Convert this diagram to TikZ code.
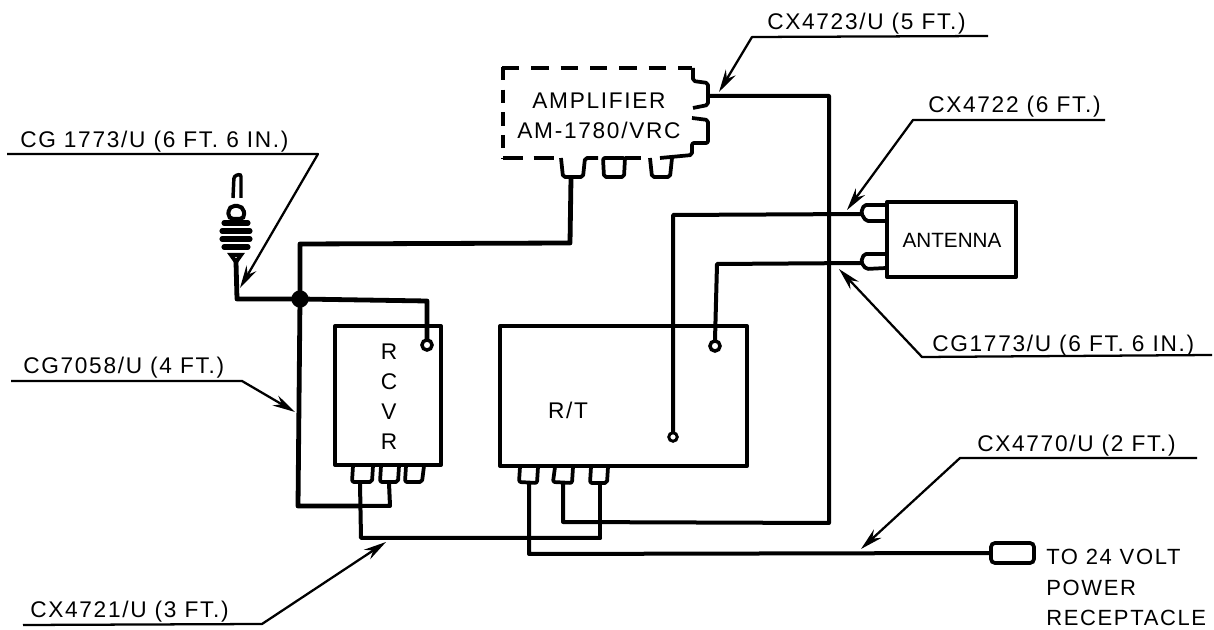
\documentclass[tikz,border=0pt]{standalone}
\usepackage{fontspec}
\setmainfont[LetterSpace=7.5]{Liberation Sans}
\newfontfamily\tightfont{Liberation Sans}
\usetikzlibrary{arrows.meta}
\begin{document}
\begin{tikzpicture}[x=0.75pt,y=-0.75pt,
  wire/.style={line width=3.6pt,line join=round,line cap=round},
  thin wire/.style={line width=3pt,line join=round,line cap=round},
  boxline/.style={line width=3pt,line join=round},
  conn/.style={line width=2.8pt,line join=round,rounded corners=1.5pt},
  leader/.style={line width=1.7pt,line join=round,-{Stealth[length=17pt,width=8.5pt]}},
  lab/.style={font=\fontsize{17pt}{17pt}\selectfont,inner sep=0pt,anchor=base west},
  plab/.style={font=\fontsize{16.5pt}{17pt}\selectfont,inner sep=0pt,anchor=base west},
  blab/.style={font=\fontsize{17pt}{22.5pt}\selectfont,inner sep=0pt,align=center}]
\useasboundingbox (0,0) rectangle (1214,630);
% amplifier
\draw[line width=3pt,dash pattern=on 13pt off 9pt] (502,68) -- (692,68);
\draw[line width=3pt,dash pattern=on 10pt off 7pt] (503,67) -- (503,158);
\draw[line width=3pt,dash pattern=on 15pt off 8pt] (503,158) -- (560,158);
\node[blab] (amp) at (599,116) {AMPLIFIER\\AM-1780/VRC};
\draw[conn] (693,68) -- (693,81) -- (708,83) -- (708,105) -- (693,108);
\draw[conn] (692,118) -- (708,120) -- (708,143) -- (692,143) -- (692,155) -- (660,158);
\draw[line width=3pt,dash pattern=on 12pt off 8pt] (625,158) -- (650,158);
\draw[conn] (561,158) -- (563,177) -- (583,177) -- (585,158) -- (598,158);
\draw[conn] (603,158) -- (604,177) -- (624,177) -- (625,158) -- cycle;
\draw[conn] (650,158) -- (652,177) -- (670,177) -- (672,158);
% antenna
\draw[boxline] (887,202) rectangle (1016,277);
\node[blab,font=\tightfont\fontsize{15.5pt}{18pt}\selectfont] (ant) at (952,240) {ANTENNA};
\draw[conn] (886,205) -- (864,205) -- (861,213) -- (866,221) -- (886,221);
\draw[conn] (886,254) -- (864,254) -- (861,262) -- (866,269) -- (886,268);
% rcvr
\draw[boxline] (335,326) rectangle (441,465);
\node[blab] (rcvr) at (389,397) {R\\C\\V\\R};
\draw[conn] (353,466) -- (352,482) -- (372,482) -- (373,466);
\draw[conn] (381,466) -- (380,482) -- (398,482) -- (399,466);
\draw[conn] (406,466) -- (405,482) -- (422,482) -- (424,466);
% r/t
\draw[boxline] (500,326) rectangle (747,466);
\node[blab] (rt) at (568,410) {R/T};
\draw[conn] (520,467) -- (519,482) -- (537,483) -- (538,467);
\draw[conn] (555,467) -- (553,482) -- (572,483) -- (573,467);
\draw[conn] (591,467) -- (590,483) -- (607,483) -- (608,467);
% terminals
\draw[line width=2.6pt] (427,345) circle (3.8pt);
\draw[line width=2.6pt] (715,346) circle (3.8pt);
\draw[line width=2.2pt] (673,437) circle (3.2pt);
% plug top left
\draw[line width=2.6pt,rounded corners=2pt] (233,198) -- (234,176) -- (241,174) -- (241,198);
\draw[line width=3pt,rounded corners=4pt] (228,219) -- (229,206) -- (243,206) -- (245,219) -- cycle;
\foreach \y/\w in {223/12,231/14,239/14,247/12}
  \draw[line width=3.8pt,line cap=round] (236-\w,\y) -- (236+\w,\y);
\draw[line width=3pt,fill=white] (231,255) -- (241,255) -- (236,262) -- cycle;
% wires
\coordinate (jn) at (300,299);
\fill (jn) circle (6.5pt);
\draw[wire] (236,262) -- (237,299) -- (jn) -- (427,301) -- (427,339);
\draw[wire] (jn) -- (300,244) -- (570,243) -- (571,178);
\draw[wire] (jn) -- (298,506) -- (361,506);
\draw[thin wire] (360,483) -- (361,538) -- (600,538);
\draw[thin wire] (389,483) -- (390,506) -- (361,506);
\draw[thin wire] (529,484) -- (529,554) -- (990,553);
\draw[thin wire] (563,484) -- (563,522) -- (829,523) -- (829,96) -- (708,96);
\draw[thin wire] (600,484) -- (600,538);
\draw[thin wire] (673,432) -- (673,215) -- (861,214);
\draw[thin wire] (715,340) -- (717,264) -- (861,263);
% power plug
\draw[line width=2.8pt,rounded corners=3pt] (991,543) rectangle (1034,563);
\node[plab] (t1) at (1046,565) {TO 24 VOLT};
\node[plab] (t2) at (1046,595) {POWER};
\node[plab] (t3) at (1046,625) {RECEPTACLE};
% labels and leaders
\node[lab] (l1) at (767,30) {CX4723/U (5 FT.)};
\coordinate (l1a) at (988,36); \coordinate (l1b) at (752,37); \coordinate (l1t) at (719,92);
\draw[leader] (l1a) -- (l1b) -- (l1t);
\node[lab] (l2) at (928,113) {CX4722 (6 FT.)};
\coordinate (l2a) at (1105,120); \coordinate (l2b) at (913,120); \coordinate (l2t) at (847,210);
\draw[leader] (l2a) -- (l2b) -- (l2t);
\node[lab] (l3) at (20,148) {CG 1773/U (6 FT. 6 IN.)};
\coordinate (l3a) at (7,154); \coordinate (l3b) at (318,154); \coordinate (l3t) at (240,288);
\draw[leader] (l3a) -- (l3b) -- (l3t);
\node[lab] (l4) at (932,352) {CG1773/U (6 FT. 6 IN.)};
\coordinate (l4a) at (1212,355); \coordinate (l4b) at (922,357); \coordinate (l4t) at (839,269);
\draw[leader] (l4a) -- (l4b) -- (l4t);
\node[lab] (l5) at (23,374) {CG7058/U (4 FT.)};
\coordinate (l5a) at (11,381); \coordinate (l5b) at (242,381); \coordinate (l5t) at (295,412);
\draw[leader] (l5a) -- (l5b) -- (l5t);
\node[lab] (l6) at (977,452) {CX4770/U (2 FT.)};
\coordinate (l6a) at (1197,458); \coordinate (l6b) at (960,458); \coordinate (l6t) at (861,549);
\draw[leader] (l6a) -- (l6b) -- (l6t);
\node[lab] (l7) at (30,618) {CX4721/U (3 FT.)};
\coordinate (l7a) at (23,625); \coordinate (l7b) at (262,624); \coordinate (l7t) at (386,542);
\draw[leader] (l7a) -- (l7b) -- (l7t);
\end{tikzpicture}
\end{document}
